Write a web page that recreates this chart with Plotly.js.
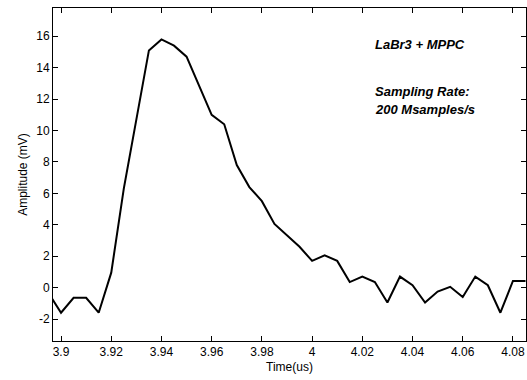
<!DOCTYPE html>
<html>
<head>
<meta charset="utf-8">
<script src="https://cdn.plot.ly/plotly-3.0.1.min.js"></script>
<style>html,body{margin:0;padding:0;background:#fff;}#chart{width:527px;height:380px;}</style>
</head>
<body>
<div id="chart"></div>
<script>
const timeUs = [3.895, 3.9, 3.905, 3.91, 3.915, 3.92, 3.925, 3.93, 3.935, 3.94, 3.945, 3.95, 3.955, 3.96, 3.965, 3.97, 3.975, 3.98, 3.985, 3.99, 3.995, 4.0, 4.005, 4.01, 4.015, 4.02, 4.025, 4.03, 4.035, 4.04, 4.045, 4.05, 4.055, 4.06, 4.065, 4.07, 4.075, 4.08, 4.085];
const amplitudeMv = [-0.35, -1.6, -0.65, -0.65, -1.6, 0.95, 6.3, 10.6, 15.1, 15.8, 15.4, 14.7, 12.8, 11.0, 10.4, 7.8, 6.4, 5.5, 4.05, 3.3, 2.6, 1.7, 2.05, 1.7, 0.35, 0.7, 0.35, -0.95, 0.7, 0.15, -0.95, -0.25, 0.05, -0.6, 0.7, 0.15, -1.6, 0.42, 0.42];
const xTickVals = [3.9, 3.92, 3.94, 3.96, 3.98, 4.0, 4.02, 4.04, 4.06, 4.08];
const xTickText = ["3.9", "3.92", "3.94", "3.96", "3.98", "4", "4.02", "4.04", "4.06", "4.08"];
const yTickVals = [-2, 0, 2, 4, 6, 8, 10, 12, 14, 16];
const yTickText = ["-2", "0", "2", "4", "6", "8", "10", "12", "14", "16"];
const noteLines = ["LaBr3 + MPPC", "Sampling Rate:", "200 Msamples/s"];

const font = "Liberation Sans, Arial, Helvetica, sans-serif";
const trace = {
  x: timeUs, y: amplitudeMv, type: "scatter", mode: "lines",
  line: {color: "#000000", width: 2}, hoverinfo: "skip"
};
const axisCommon = {
  showline: true, linecolor: "#000000", linewidth: 1, mirror: "ticks",
  ticks: "inside", ticklen: 5, tickcolor: "#000000", tickwidth: 1,
  showgrid: false, zeroline: false, tickfont: {family: font, size: 12, color: "#000000"}
};
const noteFont = {family: font, size: 13, color: "#000000"};
const layout = {
  width: 527, height: 380,
  margin: {l: 53, r: 1, t: 8, b: 39},
  paper_bgcolor: "#ffffff", plot_bgcolor: "#ffffff",
  showlegend: false,
  xaxis: Object.assign({}, axisCommon, {
    range: [3.8968, 4.0852], tickmode: "array", tickvals: xTickVals, ticktext: xTickText,
    title: {text: "Time(us)", font: {family: font, size: 12, color: "#000000"}, standoff: 4}
  }),
  yaxis: Object.assign({}, axisCommon, {
    range: [-3.4, 17.8], tickmode: "array", tickvals: yTickVals, ticktext: yTickText,
    title: {text: "Amplitude (mV)", font: {family: font, size: 12, color: "#000000"}, standoff: 6}
  }),
  annotations: [
    {text: "<b><i>" + noteLines[0] + "</i></b>", xref: "paper", yref: "paper", x: 0.6765, y: 0.889, xanchor: "left", yanchor: "middle", showarrow: false, font: noteFont},
    {text: "<b><i>" + noteLines[1] + "</i></b>", xref: "paper", yref: "paper", x: 0.6765, y: 0.748, xanchor: "left", yanchor: "middle", showarrow: false, font: noteFont},
    {text: "<b><i>" + noteLines[2] + "</i></b>", xref: "paper", yref: "paper", x: 0.6765, y: 0.694, xanchor: "left", yanchor: "middle", showarrow: false, font: noteFont}
  ]
};
Plotly.newPlot("chart", [trace], layout, {displayModeBar: false, staticPlot: true});
</script>
</body>
</html>
